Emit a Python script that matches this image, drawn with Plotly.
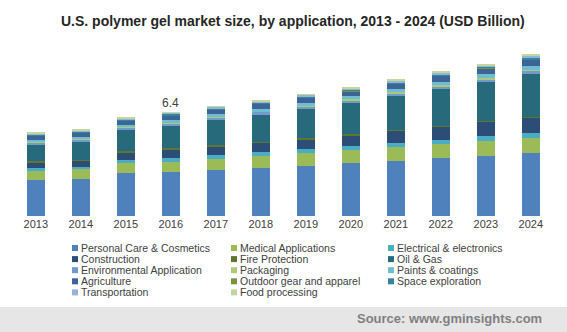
import plotly.graph_objects as go

W, H = 567, 332

years = ["2013", "2014", "2015", "2016", "2017", "2018", "2019", "2020", "2021", "2022", "2023", "2024"]

personal_care = [2.20, 2.27, 2.64, 2.70, 2.82, 2.94, 3.07, 3.25, 3.38, 3.56, 3.69, 3.87]
medical = [0.56, 0.62, 0.62, 0.66, 0.68, 0.74, 0.80, 0.80, 0.86, 0.86, 0.93, 0.93]
electrical = [0.19, 0.14, 0.19, 0.20, 0.25, 0.25, 0.25, 0.25, 0.25, 0.25, 0.31, 0.31]
construction = [0.37, 0.41, 0.49, 0.56, 0.56, 0.62, 0.62, 0.68, 0.80, 0.86, 0.88, 0.99]
fire_protection = [0.06, 0.04, 0.08, 0.06, 0.06, 0.03, 0.06, 0.06, 0.03, 0.03, 0.06, 0.03]
oil_gas = [1.05, 1.13, 1.28, 1.36, 1.54, 1.65, 1.79, 1.91, 2.08, 2.27, 2.39, 2.64]
environmental = [0.12, 0.12, 0.14, 0.19, 0.14, 0.19, 0.19, 0.19, 0.19, 0.19, 0.19, 0.19]
packaging = [0.03, 0.03, 0.06, 0.04, 0.06, 0.03, 0.03, 0.06, 0.04, 0.04, 0.06, 0.06]
paints = [0.12, 0.12, 0.12, 0.17, 0.17, 0.17, 0.17, 0.19, 0.23, 0.23, 0.25, 0.25]
agriculture = [0.25, 0.27, 0.25, 0.27, 0.29, 0.31, 0.31, 0.31, 0.31, 0.37, 0.37, 0.37]
outdoor = [0.02, 0.02, 0.02, 0.02, 0.02, 0.02, 0.02, 0.02, 0.02, 0.02, 0.02, 0.02]
space = [0.06, 0.06, 0.06, 0.07, 0.07, 0.07, 0.08, 0.08, 0.08, 0.08, 0.08, 0.10]
transportation = [0.06, 0.06, 0.06, 0.06, 0.07, 0.06, 0.08, 0.08, 0.08, 0.08, 0.08, 0.12]
food = [0.04, 0.05, 0.05, 0.05, 0.05, 0.05, 0.06, 0.06, 0.06, 0.06, 0.07, 0.07]

series_names = [
    "Personal Care & Cosmetics", "Medical Applications", "Electrical & electronics",
    "Construction", "Fire Protection", "Oil & Gas",
    "Environmental Application", "Packaging", "Paints & coatings",
    "Agriculture", "Outdoor gear and apparel", "Space exploration",
    "Transportation", "Food processing",
]
series_values = [
    personal_care, medical, electrical, construction, fire_protection, oil_gas,
    environmental, packaging, paints, agriculture, outdoor, space, transportation, food,
]
series_colors = [
    "#4F81BD", "#9BBB59", "#4BACC6", "#2C4D75", "#5F7530", "#276A7C",
    "#729ACA", "#AFC97A", "#6FBDD1", "#3C6496", "#77933C", "#31859C",
    "#95B3D7", "#C3D69B",
]

label_year = "2016"
label_text = "6.4"
title_text = "U.S. polymer gel market size, by application, 2013 - 2024 (USD Billion)"
source_text = "Source: www.gminsights.com"

FONT = "Liberation Sans, Arial, sans-serif"

fig = go.Figure()
for name, vals, col in zip(series_names, series_values, series_colors):
    fig.add_trace(go.Bar(
        x=years, y=vals, name=name,
        marker=dict(color=col, line=dict(width=0)),
        showlegend=False,
    ))

totals = [sum(v[i] for v in series_values) for i in range(len(years))]

# plot area in pixels
px_left, px_right = 13.3, 553.3
px_base, px_top = 216.0, 40.0
unit_px = 16.2
ymax = (px_base - px_top) / unit_px

def fx(px):
    return px / W

def fy(py):
    return (H - py) / H

shapes = []
annotations = []

# source band
shapes.append(dict(type="rect", xref="paper", yref="paper", x0=0, x1=1, y0=0, y1=fy(307),
                   fillcolor="#E6E6E6", line=dict(width=0), layer="below"))
annotations.append(dict(text="<b>" + source_text + "</b>", xref="paper", yref="paper",
                        x=fx(544), y=fy(318.5), xanchor="right", yanchor="middle", showarrow=False,
                        font=dict(family=FONT, size=13, color="#808080")))

# title
annotations.append(dict(text="<b>" + title_text + "</b>", xref="paper", yref="paper",
                        x=fx(293), y=fy(21), xanchor="center", yanchor="middle", showarrow=False,
                        font=dict(family=FONT, size=14, color="#262626")))

# data label (category index on the category axis)
li = years.index(label_year)
annotations.append(dict(text=label_text, x=li, y=totals[li], xref="x", yref="y",
                        xanchor="center", yanchor="bottom", yshift=0, showarrow=False,
                        font=dict(family=FONT, size=12, color="#404040")))

# manual legend
col_marker_x = [72, 231, 388]
row_y = [248, 259.1, 270.2, 281.3, 292.4]
for i, (name, col) in enumerate(zip(series_names, series_colors)):
    r, c = divmod(i, 3)
    mx = col_marker_x[c]
    cy = row_y[r]
    shapes.append(dict(type="rect", xref="paper", yref="paper",
                       x0=fx(mx), x1=fx(mx + 6), y0=fy(cy + 3), y1=fy(cy - 3),
                       fillcolor=col, line=dict(width=0)))
    annotations.append(dict(text=name, xref="paper", yref="paper",
                            x=fx(mx + 7), y=fy(cy), xanchor="left", yanchor="middle",
                            showarrow=False,
                            font=dict(family=FONT, size=10.5, color="#404040")))

fig.update_layout(
    width=W, height=H,
    margin=dict(l=0, r=0, t=0, b=0),
    paper_bgcolor="white", plot_bgcolor="white",
    barmode="stack", bargap=0.6,
    showlegend=False,
    shapes=shapes, annotations=annotations,
    font=dict(family=FONT, color="#404040"),
    xaxis=dict(domain=[fx(px_left), fx(px_right)], type="category", showgrid=False,
               showline=False, ticks="", zeroline=False, range=[-0.5, len(years) - 0.5],
               tickfont=dict(family=FONT, size=11, color="#404040")),
    yaxis=dict(domain=[fy(px_base), fy(px_top)], range=[0, ymax], visible=False,
               showgrid=False, zeroline=False),
)

fig.write_html("out.html")
